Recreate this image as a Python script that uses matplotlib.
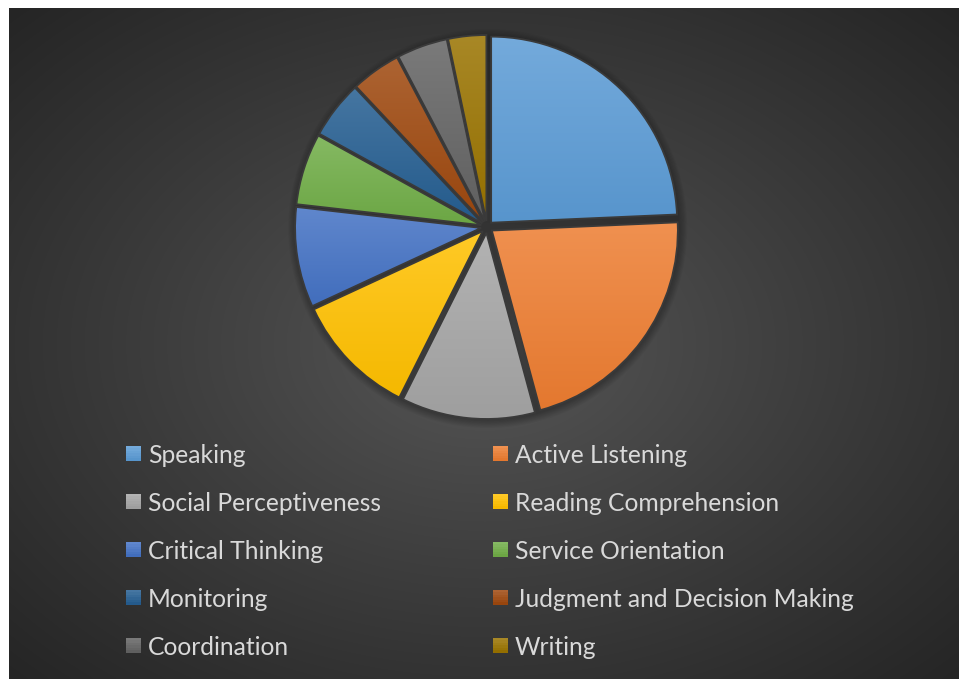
import numpy as np
import matplotlib
matplotlib.use("Agg")
import matplotlib.pyplot as plt
from matplotlib.patches import Rectangle, Circle
from matplotlib.colors import to_rgb

categories = ["Speaking", "Active Listening", "Social Perceptiveness", "Reading Comprehension",
              "Critical Thinking", "Service Orientation", "Monitoring",
              "Judgment and Decision Making", "Coordination", "Writing"]
values = [24.3, 21.5, 11.6, 10.7, 8.7, 6.2, 5.0, 4.3, 4.4, 3.3]
colors = ["#5B9BD5", "#ED7D31", "#A5A5A5", "#FFC000", "#4472C4",
          "#70AD47", "#255E91", "#9E480E", "#636363", "#997300"]

W, H = 961, 679
fig = plt.figure(figsize=(W / 100, H / 100), dpi=100, facecolor="white")

# chart area background (radial gradient)
x0, y0, x1, y1 = 9, 0, 959, 671  # pixel box (y from bottom)
bg = fig.add_axes([x0 / W, y0 / H, (x1 - x0) / W, (y1 - y0) / H], zorder=0)
ny, nx = 340, 480
yy, xx = np.mgrid[0:ny, 0:nx]
r = np.sqrt(((xx - nx * 0.5) / (nx * 0.5)) ** 2 + ((yy - ny * 0.5) / (ny * 0.5)) ** 2) / np.sqrt(2)
r = np.clip(r, 0, 1)
c_center, c_edge = 0x58 / 255, 0x25 / 255
val = c_center + (c_edge - c_center) * r ** 0.9
img = np.dstack([val, val, val])
bg.imshow(img, extent=(0, 1, 0, 1), aspect="auto", interpolation="bilinear")
bg.set_axis_off()


def lighten(c, f):
    c = np.array(to_rgb(c))
    return c + (1 - c) * f


def darken(c, f):
    return np.array(to_rgb(c)) * (1 - f)


# pie
cx, cy, R = 487, H - 227, 186
half = 215
ax = fig.add_axes([(cx - half) / W, (cy - half) / H, 2 * half / W, 2 * half / H], zorder=2)
explode = [6.0 / R] * len(values)

# soft outer shadow
for k in range(8):
    ax.add_patch(Circle((0.004, -0.008), 1.0 + 0.03 + k * 0.006, facecolor="black",
                        edgecolor="none", alpha=0.035, zorder=0.1))

wedges, _ = ax.pie(values, colors=colors, startangle=90, counterclock=False,
                   explode=explode, radius=1.0,
                   wedgeprops=dict(edgecolor="#3A3A3A", linewidth=1.3))
for w, col in zip(wedges, colors):
    verts = w.get_path().vertices
    xmin, ymin = verts.min(axis=0)
    xmax, ymax = verts.max(axis=0)
    top = lighten(col, 0.15)
    bot = darken(col, 0.04)
    t = np.linspace(0, 1, 128)[:, None]
    grad = top[None, :] * (1 - t) + bot[None, :] * t
    grad = grad[:, None, :]
    im = ax.imshow(grad, extent=(xmin, xmax, ymin, ymax), aspect="auto",
                   interpolation="bilinear", zorder=0.5)
    im.set_clip_path(w)
    w.set_facecolor("none")
lim = half / R
ax.set_xlim(-lim, lim)
ax.set_ylim(-lim, lim)
ax.set_aspect("equal")
ax.set_axis_off()

# legend
col_marker_x = [126, 493]
col_text_x = [148, 515]
base0 = 463
step = 48
for i, (lab, col) in enumerate(zip(categories, colors)):
    c = i % 2
    rrow = i // 2
    base = base0 + step * rrow
    mcy = base - 9.5
    ms = 15
    n = 6
    for k in range(n):
        f = k / (n - 1)
        cc = lighten(col, 0.15) * (1 - f) + darken(col, 0.04) * f
        fig.patches.append(Rectangle(((col_marker_x[c]) / W, (H - (mcy - ms / 2) - ms * (k + 1) / n) / H),
                                     ms / W, ms / n / H + 0.0005, transform=fig.transFigure,
                                     facecolor=cc, edgecolor="none", zorder=3))
    fig.text(col_text_x[c] / W, (H - base) / H, lab, fontsize=17.7, family="Lato",
             color="#D9D9D9", va="baseline", ha="left", zorder=3)

fig.savefig("out.png", dpi=100, facecolor="white")
